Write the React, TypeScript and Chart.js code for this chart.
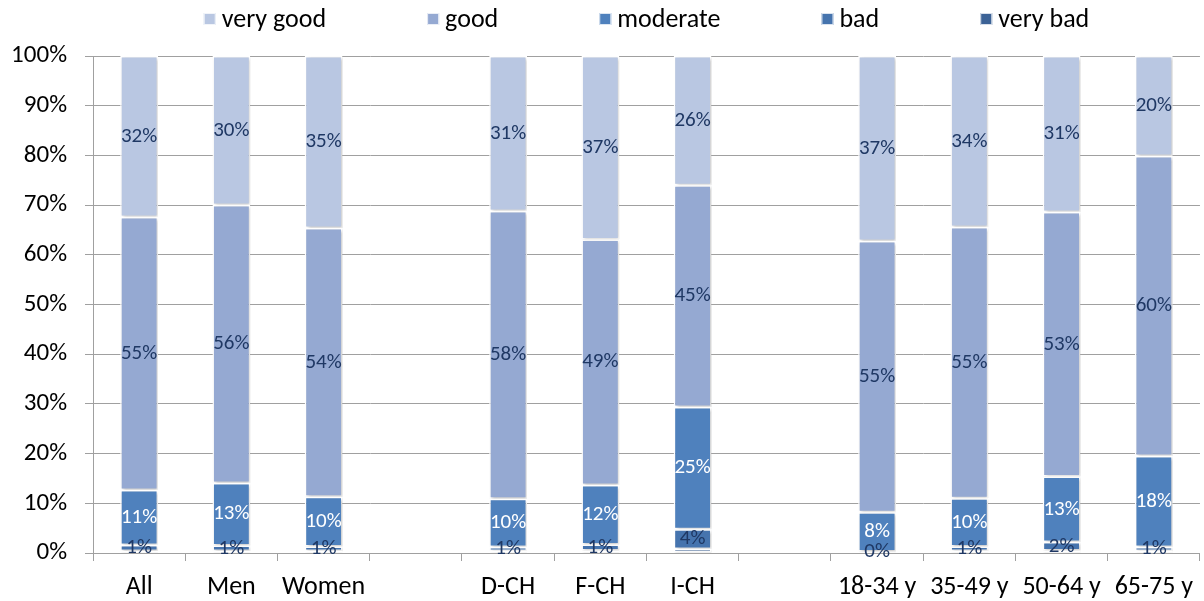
import React, { useEffect, useRef } from 'react';
import { Chart, registerables } from 'chart.js';

Chart.register(...registerables);

const categories = ['All', 'Men', 'Women', '', 'D-CH', 'F-CH', 'I-CH', '', '18-34 y', '35-49 y', '50-64 y', '65-75 y'];
const seriesNames = ['very bad', 'bad', 'moderate', 'good', 'very good'];
const veryBad = [0.4, 0.4, 0.4, null, 0.4, 0.5, 0.8, null, 0.1, 0.4, 0.5, 0.4];
const bad = [1.2, 1.1, 0.9, null, 0.8, 1.2, 4.0, null, 0.2, 0.9, 1.7, 0.8];
const moderate = [11.1, 12.6, 10.0, null, 9.7, 12.0, 24.6, null, 7.9, 9.7, 13.2, 18.3];
const good = [54.9, 55.9, 54.1, null, 57.9, 49.4, 44.6, null, 54.6, 54.6, 53.2, 60.4];
const veryGood = [32.4, 30.0, 34.6, null, 31.2, 36.9, 26.0, null, 37.2, 34.4, 31.4, 20.1];
const yTicks = [0, 10, 20, 30, 40, 50, 60, 70, 80, 90, 100];

const colors = ['#3C6296', '#4674AE', '#4F81BD', '#95A9D2', '#B9C7E2'];
const labelColors = ['#1F3864', '#1F3864', '#FFFFFF', '#1F3864', '#1F3864'];
const showLabels = [false, true, true, true, true];
const FONT = 'Carlito, Lato, sans-serif';

export default function App() {
  const ref = useRef<HTMLCanvasElement>(null);
  useEffect(() => {
    document.body.style.margin = '0';
    const canvas = ref.current;
    if (!canvas) return;
    const values = [veryBad, bad, moderate, good, veryGood];

    const shadowPlugin = {
      id: 'barShadow',
      beforeDatasetsDraw(chart: any) {
        const ctx = chart.ctx;
        ctx.save();
        ctx.shadowColor = 'rgba(0,0,0,0.22)';
        ctx.shadowBlur = 3;
        ctx.shadowOffsetX = 1.5;
        ctx.shadowOffsetY = 1.5;
      },
      afterDatasetsDraw(chart: any) {
        chart.ctx.restore();
      },
    };

    const labelPlugin = {
      id: 'segLabels',
      afterDatasetsDraw(chart: any) {
        const ctx = chart.ctx;
        ctx.save();
        ctx.font = `21px ${FONT}`;
        ctx.textAlign = 'center';
        ctx.textBaseline = 'middle';
        chart.data.datasets.forEach((ds: any, di: number) => {
          if (!showLabels[di]) return;
          const meta = chart.getDatasetMeta(di);
          meta.data.forEach((el: any, i: number) => {
            const v = ds.data[i];
            if (v === null || v === undefined) return;
            ctx.fillStyle = labelColors[di];
            ctx.fillText(Math.round(v) + '%', el.x, (el.y + el.base) / 2);
          });
        });
        ctx.restore();
      },
    };

    // legend drawn across the top, centred over the plot area, in reverse series order
    const legendPlugin = {
      id: 'topLegend',
      afterDraw(chart: any) {
        const ctx = chart.ctx;
        const area = chart.chartArea;
        const fontSize = 26;
        const box = 12;
        const gapBoxText = 6;
        const gapItems = 101;
        ctx.save();
        ctx.font = `${fontSize}px ${FONT}`;
        ctx.textBaseline = 'middle';
        ctx.textAlign = 'left';
        const order = [4, 3, 2, 1, 0];
        const widths = order.map((i) => box + gapBoxText + ctx.measureText(seriesNames[i]).width);
        const total = widths.reduce((a, b) => a + b, 0) + gapItems * (order.length - 1);
        let x = (area.left + area.right) / 2 - total / 2;
        const y = 19;
        order.forEach((si, k) => {
          ctx.fillStyle = colors[si];
          ctx.fillRect(x, y - box / 2, box, box);
          ctx.strokeStyle = 'rgba(255,255,255,0.8)';
          ctx.lineWidth = 1;
          ctx.strokeRect(x + 0.5, y - box / 2 + 0.5, box - 1, box - 1);
          ctx.fillStyle = '#000';
          ctx.fillText(seriesNames[si], x + box + gapBoxText, y + 1);
          x += widths[k] + gapItems;
        });
        ctx.restore();
      },
    };

    const chart = new Chart(canvas, {
      type: 'bar',
      data: {
        labels: categories,
        datasets: values.map((d, i) => ({
          label: seriesNames[i],
          data: d,
          backgroundColor: colors[i],
          borderColor: '#FFFFFF',
          borderWidth: 1.5,
          borderSkipped: false,
          categoryPercentage: 1,
          barPercentage: 0.41,
        })),
      },
      options: {
        responsive: false,
        animation: false,
        layout: { padding: { left: 0, right: 0, top: 56, bottom: 0 } },
        plugins: {
          legend: { display: false },
          tooltip: { enabled: false },
        },
        scales: {
          x: {
            stacked: true,
            offset: true,
            afterFit(axis: any) {
              axis.height = 48;
            },
            grid: {
              offset: true,
              drawOnChartArea: false,
              drawTicks: true,
              tickLength: 8,
              color: '#A0A0A0',
            },
            border: { display: true, color: '#A0A0A0' },
            ticks: {
              font: { family: FONT, size: 26 },
              color: '#000',
              padding: 11,
              maxRotation: 0,
              autoSkip: false,
            },
          },
          y: {
            stacked: true,
            min: 0,
            max: 100,
            afterBuildTicks(axis: any) {
              axis.ticks = yTicks.map((v) => ({ value: v }));
            },
            afterFit(axis: any) {
              axis.width = 93;
            },
            grid: {
              color: '#A0A0A0',
              drawTicks: true,
              tickLength: 8,
            },
            border: { display: true, color: '#A0A0A0' },
            ticks: {
              font: { family: FONT, size: 25 },
              color: '#000',
              padding: 18,
              callback: (v: any) => v + '%',
            },
          },
        },
      },
      plugins: [shadowPlugin, labelPlugin, legendPlugin],
    });
    return () => chart.destroy();
  }, []);
  return (
    <div style={{ width: 1204, height: 601 }}>
      <canvas ref={ref} width={1204} height={601} />
    </div>
  );
}
